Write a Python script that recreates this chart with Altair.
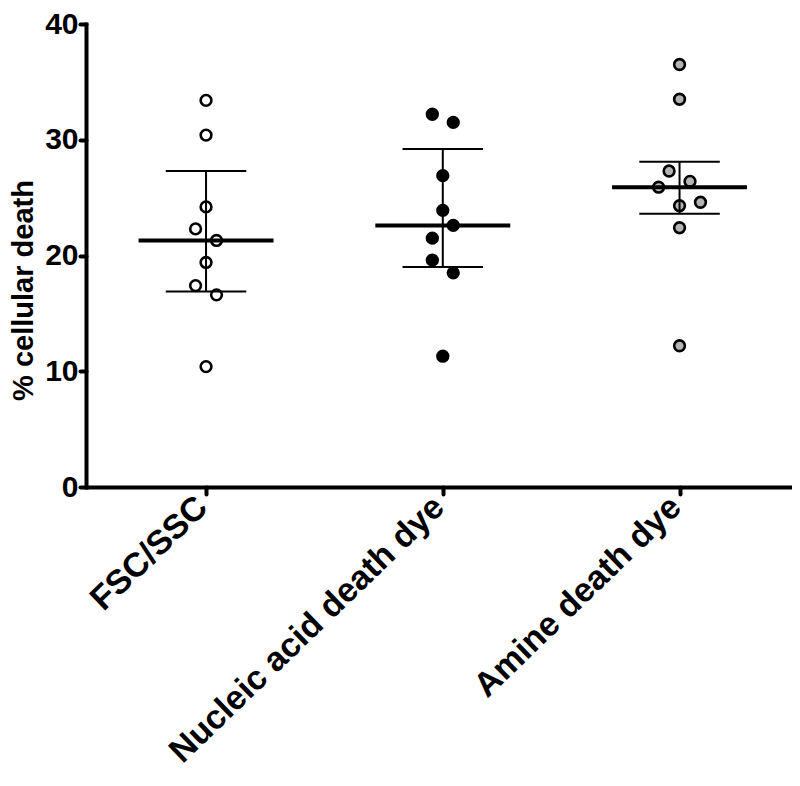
import altair as alt
import pandas as pd

# ---- data ----
categories = ["FSC/SSC", "Nucleic acid death dye", "Amine death dye"]

fsc_values = [33.4, 30.4, 24.2, 22.3, 21.3, 19.4, 17.4, 16.6, 10.4]
fsc_slots = [0, 0, 0, -1, 1, 0, -1, 1, 0]
nucleic_values = [32.2, 31.5, 26.9, 23.9, 22.6, 21.5, 19.6, 18.5, 11.3]
nucleic_slots = [-1, 1, 0, 0, 1, -1, -1, 1, 0]
amine_values = [36.5, 33.5, 27.3, 26.4, 25.9, 24.6, 24.3, 22.4, 12.2]
amine_slots = [0, 0, -1, 1, -2, 2, 0, 0, 0]

medians = [21.3, 22.6, 25.9]
lower_q = [16.9, 19.0, 23.6]
upper_q = [27.3, 29.2, 28.1]

fills = ["#ffffff", "#000000", "#b4b4b4"]

# ---- tables ----
rows = []
for gi, (vals, slots) in enumerate([(fsc_values, fsc_slots),
                                    (nucleic_values, nucleic_slots),
                                    (amine_values, amine_slots)]):
    for v, s in zip(vals, slots):
        rows.append({"group": categories[gi], "gi": gi, "slot": s, "value": v})
points_df = pd.DataFrame(rows)

summary_df = pd.DataFrame({
    "group": categories,
    "gi": list(range(len(categories))),
    "median": medians,
    "lower": lower_q,
    "upper": upper_q,
})

FONT = "Liberation Sans"
label_expr = "[" + ",".join("'" + c + "'" for c in categories) + "][datum.value]"

xscale = alt.Scale(domain=[-0.507, 2.475], nice=False, zero=False)
yscale = alt.Scale(domain=[0, 40], nice=False)

x_axis = alt.Axis(
    values=[0, 1, 2], labelExpr=label_expr, title=None,
    labelAngle=-44, labelAlign="right", labelBaseline="middle",
    labelFont=FONT, labelFontSize=34, labelFontWeight="bold", labelColor="black",
    labelPadding=8, labelOffset=-4, labelLimit=0,
    tickSize=7, tickWidth=4, tickColor="black", tickCap="round",
    domainWidth=4, domainColor="black", domainCap="round", grid=False,
    labelOverlap=False, labelBound=False, labelFlush=False,
)
y_axis = alt.Axis(
    values=[0, 10, 20, 30, 40], title="% cellular death",
    labelFont=FONT, labelFontSize=30, labelFontWeight="bold", labelColor="black",
    labelPadding=2, tickSize=6, tickWidth=4, tickColor="black", tickCap="round",
    domainWidth=4, domainColor="black", domainCap="square", grid=False,
    titleFont=FONT, titleFontSize=29, titleFontWeight="bold", titleColor="black",
    titleAngle=-90, titleX=-63, titleY=266, titleAlign="center", titleBaseline="middle",
    labelOverlap=False, labelFlush=False,
)

pts = alt.Chart(points_df).transform_calculate(
    xpos="datum.gi + datum.slot * 0.0442"
).mark_point(shape="circle", filled=False, size=115, strokeWidth=2.6, opacity=1).encode(
    x=alt.X("xpos:Q", scale=xscale, axis=x_axis),
    y=alt.Y("value:Q", scale=yscale, axis=y_axis),
    fill=alt.Fill("group:N", scale=alt.Scale(domain=categories, range=fills), legend=None),
    stroke=alt.value("black"),
    fillOpacity=alt.value(1),
)

base = alt.Chart(summary_df).transform_calculate(
    mx1="datum.gi - 0.285", mx2="datum.gi + 0.285",
    cx1="datum.gi - 0.17", cx2="datum.gi + 0.17",
)

median_rule = base.mark_rule(color="black", strokeWidth=4).encode(
    x=alt.X("mx1:Q", scale=xscale), x2="mx2:Q", y=alt.Y("median:Q", scale=yscale)
)
vert_rule = base.mark_rule(color="black", strokeWidth=2).encode(
    x=alt.X("gi:Q", scale=xscale), y=alt.Y("lower:Q", scale=yscale), y2="upper:Q"
)
cap_up = base.mark_rule(color="black", strokeWidth=2).encode(
    x=alt.X("cx1:Q", scale=xscale), x2="cx2:Q", y=alt.Y("upper:Q", scale=yscale)
)
cap_lo = base.mark_rule(color="black", strokeWidth=2).encode(
    x=alt.X("cx1:Q", scale=xscale), x2="cx2:Q", y=alt.Y("lower:Q", scale=yscale)
)

chart = alt.layer(pts, vert_rule, cap_up, cap_lo, median_rule).properties(
    width=706, height=463,
    autosize=alt.AutoSizeParams(type="none"),
    padding={"left": 78, "top": 16, "right": 0, "bottom": 290},
    background="white",
).configure_view(stroke=None)

chart.save("out.html", embed_options={"renderer": "svg", "actions": False})
